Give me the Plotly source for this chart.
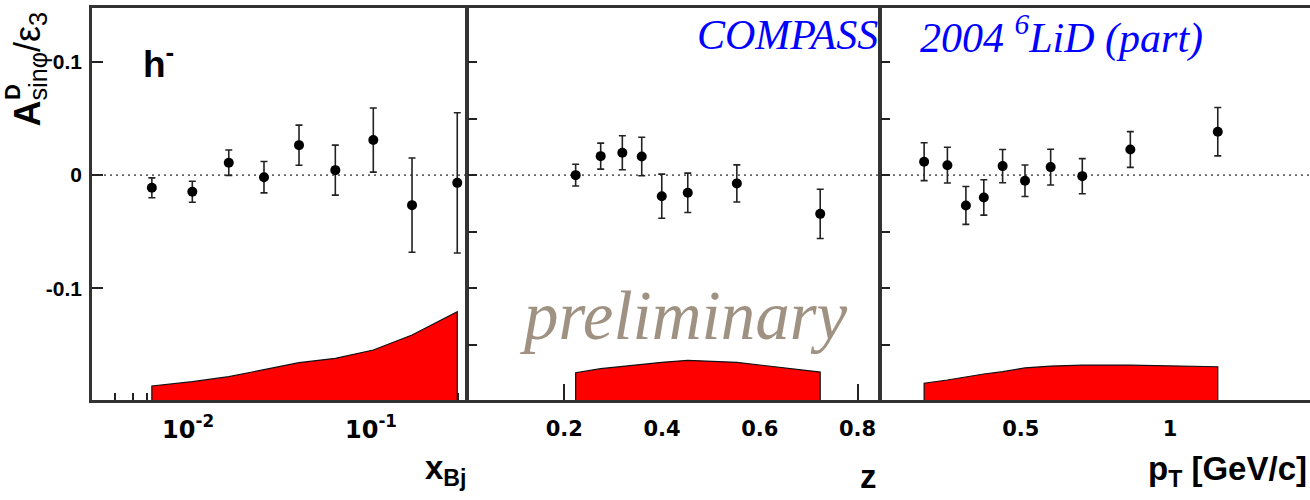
import math
import plotly.graph_objects as go

W, H = 1310, 500

# ---------------- data ----------------
# panel 1 : x_Bj
xbj = [0.00634, 0.01055, 0.01669, 0.0260, 0.0404, 0.0638, 0.1029, 0.1675, 0.296]
a_xbj = [-0.0112, -0.0147, 0.0110, -0.0018, 0.0265, 0.0044, 0.0310, -0.0265, -0.0068]
e_xbj = [0.0088, 0.0093, 0.0112, 0.0139, 0.0177, 0.0221, 0.0283, 0.0416, 0.0620]
s_xbj = [0.0124, 0.0162, 0.0206, 0.0268, 0.0330, 0.0368, 0.0442, 0.0574, 0.0780]

# panel 2 : z
zz = [0.2233, 0.2745, 0.3188, 0.3585, 0.3995, 0.4527, 0.5531, 0.7237]
a_z = [0.0000, 0.0168, 0.0198, 0.0165, -0.0186, -0.0156, -0.0073, -0.0342]
e_z = [0.0096, 0.0115, 0.0150, 0.0170, 0.0195, 0.0174, 0.0164, 0.0218]
s_z = [0.0241, 0.0277, 0.0298, 0.0315, 0.0333, 0.0351, 0.0333, 0.0247]

# panel 3 : pT
pt = [0.176, 0.254, 0.316, 0.376, 0.439, 0.514, 0.600, 0.706, 0.867, 1.160]
a_pt = [0.0119, 0.0088, -0.0268, -0.0197, 0.0080, -0.0050, 0.0071, -0.0009, 0.0227, 0.0384]
e_pt = [0.0167, 0.0158, 0.0167, 0.0156, 0.0147, 0.0139, 0.0158, 0.0155, 0.0158, 0.0214]
s_pt = [0.0148, 0.0177, 0.0206, 0.0230, 0.0250, 0.0283, 0.0300, 0.0309, 0.0309, 0.0294]

Y_MIN, Y_MAX = -0.1987, 0.1477
y_major = [-0.1, 0.0, 0.1]
y_major_text = ["-0.1", "0", "0.1"]
y_all = [-0.15, -0.1, -0.05, 0.0, 0.05, 0.1]

xbj_major = [0.01, 0.1]
xbj_major_text = ["10<sup>-2</sup>", "10<sup>-1</sup>"]
xbj_minor = [0.004, 0.005, 0.006, 0.007, 0.008, 0.009,
             0.02, 0.03, 0.04, 0.05, 0.06, 0.07, 0.08, 0.09, 0.2, 0.3]
z_ticks = [0.2, 0.4, 0.6, 0.8]
z_ticks_text = ["0.2", "0.4", "0.6", "0.8"]
pt_ticks = [0.5, 1.0]
pt_ticks_text = ["0.5", "1"]

XBJ_RANGE = [0.002985, 0.3304]
Z_RANGE = [0.003, 0.844]
PT_RANGE = [0.0315, 1.469]

# ---------------- figure ----------------
fig = go.Figure()

def px_x(p):
    return p / W

def px_y(p):
    return 1 - p / H

panels = [
    ("x", "y", xbj, a_xbj, e_xbj, s_xbj),
    ("x2", "y2", zz, a_z, e_z, s_z),
    ("x3", "y3", pt, a_pt, e_pt, s_pt),
]

for xa, ya, xs, ys, es, ss in panels:
    bx = [xs[0]] + list(xs) + [xs[-1]]
    by = [Y_MIN] + [Y_MIN + s for s in ss] + [Y_MIN]
    fig.add_trace(go.Scatter(x=bx, y=by, xaxis=xa, yaxis=ya, mode="lines",
                             fill="toself", fillcolor="#ff0000",
                             line=dict(color="#111111", width=1.2),
                             hoverinfo="skip", showlegend=False))
    fig.add_trace(go.Scatter(x=xs, y=ys, xaxis=xa, yaxis=ya, mode="markers",
                             marker=dict(color="black", size=10),
                             error_y=dict(type="data", array=es, visible=True,
                                          color="#222222", thickness=1.6, width=3.5),
                             showlegend=False))

border = dict(showline=True, linecolor="#333333", linewidth=2.5, mirror=True,
              showgrid=False, zeroline=False)
ydom = [px_y(400), px_y(8)]

tickfont_x = dict(family="DejaVu Sans", size=21, color="black", weight="bold")

fig.update_layout(
    width=W, height=H,
    margin=dict(l=0, r=0, t=0, b=0),
    paper_bgcolor="white", plot_bgcolor="white",
    showlegend=False,
    xaxis=dict(domain=[px_x(92), px_x(466)], anchor="y", type="log",
               range=[math.log10(XBJ_RANGE[0]), math.log10(XBJ_RANGE[1])],
               tickmode="array", tickvals=xbj_major, ticktext=xbj_major_text,
               ticks="inside", ticklen=16, tickwidth=1.5, tickcolor="#222",
               minor=dict(tickvals=xbj_minor, ticks="inside", ticklen=7, tickwidth=1.5, tickcolor="#222"),
               tickfont=dict(family="DejaVu Sans", size=24, color="black", weight="bold"),
               ticklabelstandoff=6, layer="below traces", **border),
    xaxis2=dict(domain=[px_x(468), px_x(879)], anchor="y2", range=Z_RANGE,
                tickmode="array", tickvals=z_ticks, ticktext=z_ticks_text,
                ticks="inside", ticklen=16, tickwidth=1.5, tickcolor="#222",
                tickfont=tickfont_x, ticklabelstandoff=8, layer="below traces", **border),
    xaxis3=dict(domain=[px_x(881), 1.0], anchor="y3", range=PT_RANGE,
                tickmode="array", tickvals=pt_ticks, ticktext=pt_ticks_text,
                ticks="inside", ticklen=16, tickwidth=1.5, tickcolor="#222",
                tickfont=tickfont_x, ticklabelstandoff=8, layer="below traces", **border),
    yaxis=dict(domain=ydom, anchor="x", range=[Y_MIN, Y_MAX],
               tickmode="array", tickvals=y_major, ticktext=y_major_text,
               ticks="inside", ticklen=11, tickwidth=1.5, tickcolor="#222",
               tickfont=dict(family="Liberation Sans", size=21, color="black", weight="bold"),
               ticklabelstandoff=3, **border),
    yaxis2=dict(domain=ydom, anchor="x2", range=[Y_MIN, Y_MAX],
                tickmode="array", tickvals=y_all, showticklabels=False,
                ticks="inside", ticklen=9, tickwidth=1.5, tickcolor="#222", **border),
    yaxis3=dict(domain=ydom, anchor="x3", range=[Y_MIN, Y_MAX],
                tickmode="array", tickvals=y_all, showticklabels=False,
                ticks="inside", ticklen=9, tickwidth=1.5, tickcolor="#222",
                showline=True, linecolor="#333333", linewidth=2.5, mirror=False,
                showgrid=False, zeroline=False),
)

# dotted zero lines
for xa, ya in [("x", "y"), ("x2", "y2"), ("x3", "y3")]:
    fig.add_shape(type="line", xref=f"{xa} domain", yref=ya, x0=0, x1=1, y0=0, y1=0,
                  line=dict(color="#666666", width=1.6, dash="2px,4px"), layer="below")

ann = []
# y-axis title
ann.append(dict(text="<b>A</b><sub>sinφ</sub><span style='font-weight:normal'>/ε</span><sub>3</sub>",
                xref="paper", yref="paper", x=px_x(29), y=px_y(129), xanchor="center", yanchor="bottom",
                textangle=-90, showarrow=False,
                font=dict(family="Liberation Sans", size=36, color="black")))
ann.append(dict(text="<b>D</b>", xref="paper", yref="paper", x=px_x(13), y=px_y(92),
                xanchor="center", yanchor="middle", textangle=-90, showarrow=False,
                font=dict(family="Liberation Sans", size=22, color="black")))
# h-
ann.append(dict(text="<b>h</b><sup><b>-</b></sup>", xref="paper", yref="paper",
                x=px_x(141), y=px_y(61), xanchor="left", yanchor="middle", showarrow=False,
                font=dict(family="Liberation Sans", size=37, color="black")))
# axis titles
tfont = dict(family="Liberation Sans", size=33, color="black", weight="bold")
ann.append(dict(text="x<sub>Bj</sub>", xref="paper", yref="paper", x=px_x(468), y=px_y(470),
                xanchor="right", yanchor="middle", showarrow=False, font=tfont))
ann.append(dict(text="z", xref="paper", yref="paper", x=px_x(879), y=px_y(476),
                xanchor="right", yanchor="middle", showarrow=False, font=tfont))
ann.append(dict(text="p<sub>T</sub> [GeV/c]", xref="paper", yref="paper", x=px_x(1309), y=px_y(471),
                xanchor="right", yanchor="middle", showarrow=False, font=tfont))
# labels
sfont = dict(family="Liberation Serif", size=42, color="#0000ff", style="italic")
ann.append(dict(text="COMPASS", xref="paper", yref="paper", x=px_x(880), y=px_y(35),
                xanchor="right", yanchor="middle", showarrow=False, font=sfont))
ann.append(dict(text="2004 <sup>6</sup>LiD (part)", xref="paper", yref="paper", x=px_x(918), y=px_y(35),
                xanchor="left", yanchor="middle", showarrow=False, font=sfont))
ann.append(dict(text="preliminary", xref="paper", yref="paper", x=px_x(683), y=px_y(316),
                xanchor="center", yanchor="middle", showarrow=False,
                font=dict(family="Liberation Serif", size=69, color="#a09282", style="italic")))

fig.update_layout(annotations=ann)
fig.write_html("out.html")
